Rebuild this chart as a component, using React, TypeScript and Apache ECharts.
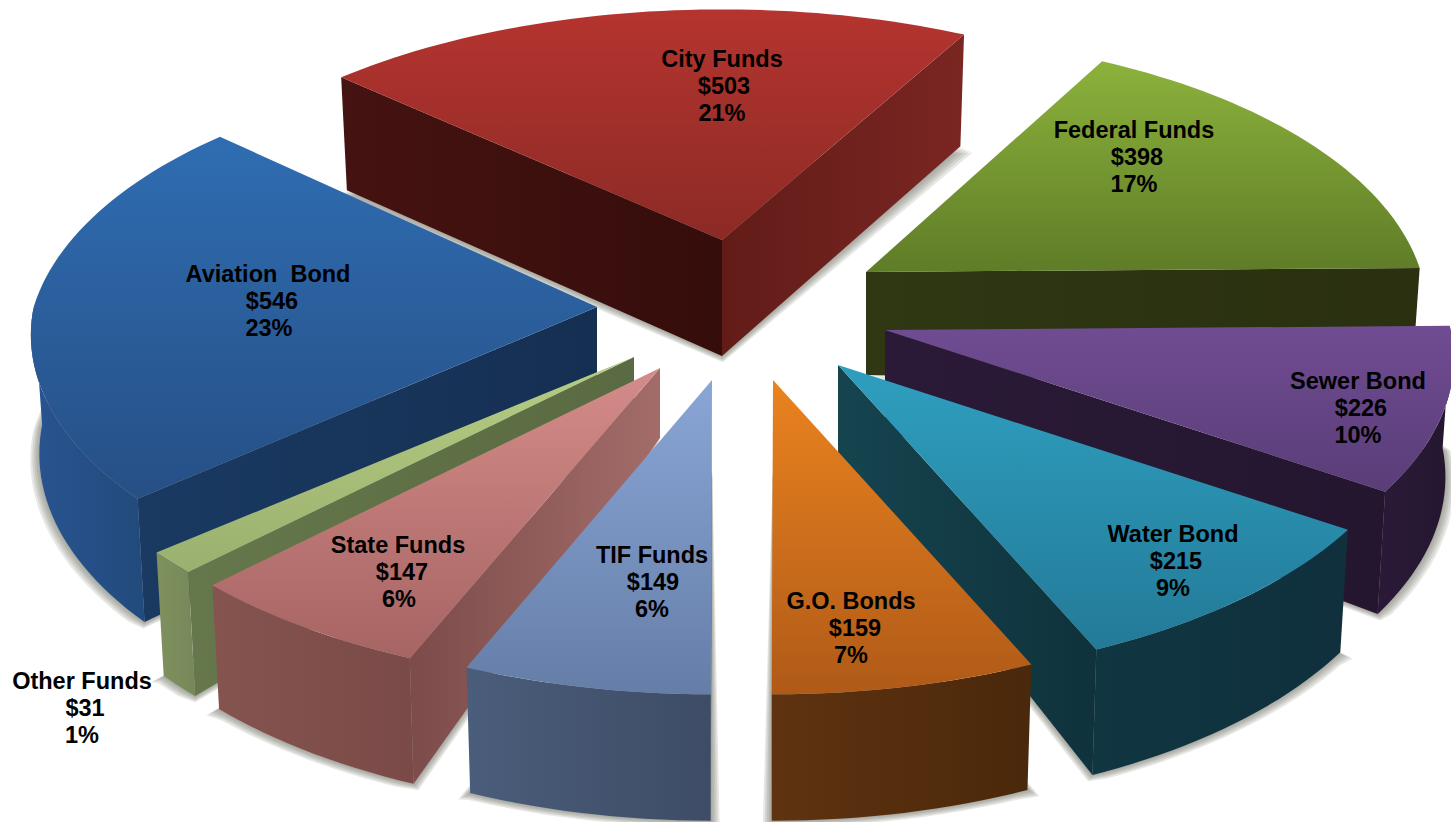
import React, { useEffect, useRef } from "react";
import * as echarts from "echarts";

const fundNames = ["City Funds", "Federal Funds", "Sewer Bond", "Water Bond", "G.O. Bonds", "TIF Funds", "State Funds", "Other Funds", "Aviation  Bond"];
const fundAmounts = [503, 398, 226, 215, 159, 149, 147, 31, 546];
const fundPercents = [21, 17, 10, 9, 7, 6, 6, 1, 23];

// Presentation tables (not data)
const START_ANGLE = 137.5;
const RADIUS_X = 555;
const RADIUS_Y = 272;
const PERSPECTIVE_NEAR = 0.1;
const PERSPECTIVE_FAR = 0.15;
const RIM_HEIGHT = 118;
const BOTTOM_SHRINK = 0.985;
const paintOrder = [0, 8, 1, 2, 7, 6, 3, 5, 4];
const sliceTips = [[722, 240], [866, 272], [885, 330], [838, 365], [773, 380], [712, 380], [660, 368], [634, 357], [597, 307]];
const sliceScalesX = [1.025, 1, 1.02, 1.04, 1.04, 1.04, 1.06, 1.055, 1.015];
const sliceScalesY = [0.975, 1, 1.02, 1.04, 1.04, 1.04, 1.05, 1.04, 1.02];
const tipHeights = [116, 103, 100, 88, 90, 90, 70, 80, 103];
const topColors = [["#b5342f", "#8c2a25"], ["#8cb23c", "#5f7c27"], ["#704c92", "#5a3d78"], ["#2f9fbf", "#237a98"], ["#ea831f", "#b05a18"], ["#8aa6d6", "#657ea8"], ["#d48c8a", "#a66462"], ["#b6cd84", "#9ab06e"], ["#2f6db2", "#264f85"]];
// gradient runs from the tip end to the outer end of the wall
const wallColors = [["#350d0b", "#451311"], ["#2f3713", "#2a3010"], ["#2a1a38", "#24162f"], ["#15444f", "#0f323c"], ["#5c310f", "#4c280b"], ["#44566f", "#3f4f68"], ["#a36c69", "#7c4c4a"], ["#5a6a42", "#65774b"], ["#152f52", "#1a3a62"]];
const secondWallColors = [["#621c18", "#7a2622"], null, null, null, null, null, null, null, null];
const rimColors = [["#5a1a16", "#5a1a16"], ["#2f3713", "#2f3713"], ["#2a1a38", "#24162f"], ["#103642", "#0f303c"], ["#5f3310", "#4a280b"], ["#4a5d7a", "#3e4c66"], ["#85544f", "#7a4a48"], ["#7f915d", "#76885a"], ["#285490", "#224a7c"]];
const labelCenters = [[722, 59], [1134, 130], [1358, 381], [1173, 534], [851, 601], [652, 555], [398, 545], [82, 681], [268, 274]];
const valueShifts = [2, 3, 3, 3, 4, 1, 4, 3, 4];
const percentShifts = [0, 0, 0, 0, 0, 0, 1, 0, 1];
const shadowLayers = [9, 7, 5, 3, 1];

const total = fundAmounts.reduce((a, b) => a + b, 0);
const sliceAngles = (() => {
  let current = START_ANGLE;
  return fundAmounts.map((v) => {
    const from = current;
    current -= (v / total) * 360;
    return [from, current];
  });
})();

function project(i: number, deg: number, shrink = 1): [number, number] {
  const t = (deg * Math.PI) / 180;
  const sn = Math.sin(t);
  const s = 1 / (1 + (sn > 0 ? PERSPECTIVE_FAR : PERSPECTIVE_NEAR) * sn);
  return [
    sliceTips[i][0] + RADIUS_X * sliceScalesX[i] * shrink * Math.cos(t) * s,
    sliceTips[i][1] - RADIUS_Y * sliceScalesY[i] * shrink * sn * s,
  ];
}
function rimDrop(deg: number) {
  const t = (deg * Math.PI) / 180;
  return RIM_HEIGHT / (1 + PERSPECTIVE_NEAR * Math.sin(t));
}
function topPoint(i: number, deg: number) {
  return project(i, deg);
}
function bottomPoint(i: number, deg: number): [number, number] {
  const p = project(i, deg, BOTTOM_SHRINK);
  return [p[0], p[1] + rimDrop(deg)];
}
function arcAngles(from: number, to: number) {
  const out: number[] = [];
  for (let a = from; a > to; a -= 1.5) out.push(a);
  out.push(to);
  return out;
}
function tipBottom(i: number): [number, number] {
  return [sliceTips[i][0], sliceTips[i][1] + tipHeights[i]];
}
function grad(c: string[], horizontal = false) {
  return new echarts.graphic.LinearGradient(0, 0, horizontal ? 1 : 0, horizontal ? 0 : 1, [
    { offset: 0, color: c[0] },
    { offset: 1, color: c[1] },
  ]);
}
function poly(points: number[][], fill: any) {
  return { type: "polygon", shape: { points }, style: { fill, stroke: null } };
}

function renderSlice(params: any) {
  const i = paintOrder[params.dataIndex];
  const [a0, a1] = sliceAngles[i];
  const tip = sliceTips[i];
  const children: any[] = [];
  // radial wall at the counter-clockwise end (its outer end lies to the left)
  if (Math.cos((a0 * Math.PI) / 180) < -0.001) {
    const c = wallColors[i];
    children.push(poly([tip, topPoint(i, a0), bottomPoint(i, a0), tipBottom(i)], grad([c[1], c[0]], true)));
  }
  // radial wall at the clockwise end (its outer end lies to the right)
  if (Math.cos((a1 * Math.PI) / 180) > 0.001) {
    const fill = grad(secondWallColors[i] || wallColors[i], true);
    children.push(poly([tip, topPoint(i, a1), bottomPoint(i, a1), tipBottom(i)], fill));
  }
  // outer rim, only where it faces the viewer
  const rimFrom = Math.min(a0, 0);
  const rimTo = Math.max(a1, -180);
  if (rimFrom > rimTo) {
    const arc = arcAngles(rimFrom, rimTo);
    const pts = [...arc.map((a) => topPoint(i, a)), ...arc.slice().reverse().map((a) => bottomPoint(i, a))];
    children.push(poly(pts, grad(rimColors[i], true)));
  }
  // top face
  children.push(poly([tip, ...arcAngles(a0, a1).map((a) => topPoint(i, a))], grad(topColors[i])));
  return { type: "group", children };
}

// soft shadow built from stacked translucent outlines
function renderShadow(params: any) {
  const i = paintOrder[params.dataIndex];
  const [a0, a1] = sliceAngles[i];
  const rad = (d: number) => (d * Math.PI) / 180;
  const arc = arcAngles(a0, a1).filter((a) => Math.sin(rad(a)) < 0.2);
  const tip = tipBottom(i);
  const nA = Math.cos(rad(a0 + 90));
  const nB = Math.cos(rad(a1 - 90));
  const angles = arc.length ? arc : [a0, a1];
  const children = shadowLayers.map((spread) => {
    const drop = spread * 0.7;
    const tipPt = [tip[0] + ((nA + nB) * spread) / 2, tip[1] + drop];
    const pts = angles.map((a, k) => {
      const b = bottomPoint(i, a);
      let dx = spread * Math.cos(rad(a));
      if (k === 0 && a === a0) dx += nA * spread;
      if (k === angles.length - 1 && a === a1) dx += nB * spread;
      return [b[0] + dx, b[1] + drop];
    });
    return { type: "polygon", shape: { points: [tipPt, ...pts] }, style: { fill: "rgba(110,110,100,0.17)" } };
  });
  return { type: "group", children };
}

function renderLabel(params: any) {
  const i = params.dataIndex;
  const [cx, cy] = labelCenters[i];
  const line = (text: string, dx: number, dy: number) => ({
    type: "text",
    x: cx + dx,
    y: cy + dy,
    style: {
      text,
      fill: "#000",
      align: "center",
      verticalAlign: "middle",
      font: 'bold 23.5px "Liberation Sans", Arial, sans-serif',
    },
  });
  return {
    type: "group",
    children: [
      line(fundNames[i], 0, 0),
      line(`$${fundAmounts[i]}`, valueShifts[i], 27),
      line(`${fundPercents[i]}%`, percentShifts[i], 54),
    ],
  };
}

export default function App() {
  const ref = useRef<HTMLDivElement>(null);
  useEffect(() => {
    const chart = echarts.init(ref.current!, undefined, { renderer: "svg" });
    const paintData = paintOrder.map((i) => ({ name: fundNames[i], value: fundAmounts[i] }));
    chart.setOption({
      animation: false,
      backgroundColor: "#ffffff",
      series: [
        { type: "custom", name: "shadow", coordinateSystem: "none", silent: true, z: 1, renderItem: renderShadow, data: paintData },
        { type: "custom", name: "Funds", coordinateSystem: "none", z: 2, renderItem: renderSlice, data: paintData },
        { type: "custom", name: "Labels", coordinateSystem: "none", z: 3, renderItem: renderLabel, data: fundNames.map((n, i) => ({ name: n, value: fundAmounts[i] })) },
      ],
    });
    return () => chart.dispose();
  }, []);
  return <div ref={ref} style={{ position: "absolute", left: 0, top: 0, width: 1451, height: 822 }} />;
}
